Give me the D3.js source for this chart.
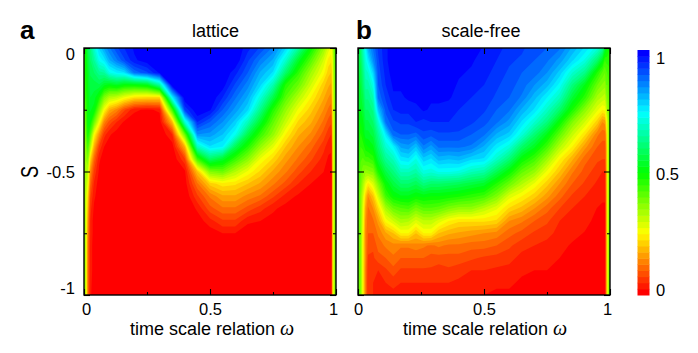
<!DOCTYPE html>
<html><head><meta charset="utf-8">
<script src="https://cdn.jsdelivr.net/npm/d3@7"></script>
<style>html,body{margin:0;padding:0;background:#fff}svg{display:block}text{font-family:"Liberation Sans",Arial,sans-serif;fill:#000}</style>
</head><body><svg id="c" width="698" height="353"></svg>
<script>
// value in percent; one line per omega column
const omegaA=[0,.006,.015,.025,.04,.06,.08,.1,.13,.16,.2,.25,.3,.35,.4,.45,.5,.55,.6,.65,.7,.75,.8,.85,.9,.95,.97,.98,.984,.988,.993,1];
const sA=[0,-.05,-.1,-.15,-.2,-.25,-.3,-.35,-.4,-.45,-.5,-.55,-.6,-.65,-.7,-.75,-.8,-.9,-1];
const colsA=[
[47,47,47,47,46,44,42,41,40,40,39,39,38,38,38,38,38,38,38],
[50,49,48,47,45,42,40,38,36,35,34,34,33,33,33,33,33,33,33],
[58,55,53,52,51,51,51,49,44,38,32,28,22,19,16,14,13,12,12],
[62,60,58,56,55,53,50,42,33,22,15,11,8,6,5,5,4,4,3],
[70,65,60,56,54,51,40,26,18,11,7,4.5,3,2,1,1,1,1,1],
[78,73,64,57,48,38,27,15,7,3,2,1,1,1,1,1,1,1,1],
[83,76,65,53,38,26,14,6,2.5,1,1,1,1,1,1,1,1,1,1],
[87,82,72,51,33,18,9,3,1,1,1,1,1,1,1,1,1,1,1],
[92,87,75,53,31,14,5,1,1,1,1,1,1,1,1,1,1,1,1],
[95,92,77,50,27,8,2,0,0,0,0,0,0,0,0,0,0,0,0],
[98,97,88,50,23,3,1,0,0,0,0,0,0,0,0,0,0,0,0],
[100,99,92,52,22,2,1,0,0,0,0,0,0,0,0,0,0,0,0],
[100,100,98,65,22,3,1,0,0,0,0,0,0,0,0,0,0,0,0],
[100,100,100,100,75,44,19,5,1,0,0,0,0,0,0,0,0,0,0],
[100,100,100,100,100,93,70,40,18,7,2,1,0,0,0,0,0,0,0],
[100,100,100,100,100,100,95,85,68,44,20,12,7,3,1,0,0,0,0],
[100,100,100,100,100,98,90,84,77,59,38,21,13,9,4,1,0,0,0],
[100,100,100,99,95,90,85,80,75,54,40,24,17,12,7,2.5,1,0,0],
[100,100,96,92,88,84,79,73,58,45,33,23,17,12,7,2.5,1,0,0],
[96,93,90,86,82,78,68,57,47,37,27,20,14,9,3,1,1,0,0],
[92,87,82,78,71,63,54,45,36,27,22,17,12,6,2.5,1,0,0,0],
[87,82,77,67,57,47,41,36,28,22,17,13,8,3,1.5,1,0,0,0],
[78,70,60,47,42,36,31,25,20,16,13,9,4,1.5,1,0,0,0,0],
[65,54,46,40,33,27,22,18,15,12,8.5,5,2,1,1,0,0,0,0],
[50,42,35,30,25,21,18,14.5,11,8,5,2.5,1,1,1,0,0,0,0],
[36,30,26,21,18,15,12,9,6,4,2.6,1,1,1,0,0,0,0,0],
[29,24,21,18,15,12,9,6,3.5,2,1,1,1,0,0,0,0,0,0],
[27,23,20,17,14,11,8,5,3,2,1,1,1,0,0,0,0,0,0],
[28,25,22,20,18,15,12,9,7,6,5,5,5,6,6,6,7,8,8],
[32,30,29,28,27,27,26,26,25,25,25,25,25,25,25,25,25,25,25],
[40,38,37,36,35,34,33,33,33,33,33,33,33,33,33,33,33,33,33],
[46,45,44,44,44,43,43,42,42,42,42,42,42,42,42,42,42,42,42]];

const omegaB=[0,.01,.02,.03,.04,.06,.08,.11,.14,.17,.2,.23,.26,.29,.32,.36,.4,.45,.5,.55,.6,.65,.7,.75,.8,.85,.9,.95,.97,.98,.985,.99,.995,1];
const sB=[0,-.05,-.1,-.15,-.2,-.25,-.3,-.35,-.4,-.45,-.5,-.55,-.6,-.65,-.7,-.75,-.8,-.85,-.9,-.95,-1];
const colsB=[
[55,55,54,54,53,53,52,52,50,49,48,46,45,44,43,43,42,42,42,42,42],
[60,58,56,55,54,52,50,47,45,43,41,40,38,38,38,38,38,38,38,38,38],
[68,65,62,60,57,55,52,50,46,42,38,34,30,28,27,26,25,25,25,25,25],
[75,72,69,66,63,60,57,54,49,44,36,28,21,17,15,14,14,14,13,13,13],
[82,76,70,66,63,60,57,54,50,44,37,24,15,12,11,10,9,7,6,5,5],
[88,85,78,72,67,63,60,56,52,46,38,29,20,15,12,10,8,7,6,5,5],
[93,92,91,90,88,80,70,64,60,55,48,38,30,22,16,13,11,9,5,4,3],
[97,97,96,95,93,91,88,76,70,64,57,50,44,34,26,17,13,10,7,5,4],
[99,99,99,98,97,95,92,89,75,68,62,56,50,40,30,20,14,12,9,6,4],
[100,100,99,98,97,96,93,90,83,76,68,60,52,42,34,25,13,10,7,5,4],
[100,100,100,99,98,96,93,90,84,77,68,60,52,43,33,25,13,10,7,5,3.5],
[100,100,100,98,99,96,95,89,80,72,66,58,50,39,29,20,14,10,7,5,3.5],
[100,100,99,100,99,98,94,92,87,79,72,62,51,42,32,25,13,10,7,5,4],
[100,100,100,99,98,97,95,91,84,77,71,60,50,42,32,25,12,9,7,5,3.5],
[100,100,100,99,98,97,95,92,88,81,73,60,50,41,29,20,13,9,6,5,3.5],
[100,100,99,99,98,96,95,92,88,80,73,59,49,38,25,18,12,9,7,5,3.5],
[100,99,98,97,96,95,94,92,88,81,72,58,48,36,23,17,12,9,6,4.5,3],
[100,98,97,96,95,94,93,90,87,78,68,56,46,36,23,16,11,8,5,4,3],
[97,96,96,95,94,93,91,88,82,77,66,54,44,32,23,15,11,7,5,3.5,2.5],
[96,95,94,93,92,90,88,82,76,69,58,47,38,28,22,14,10,6.5,4.5,3,2],
[94,93,92,91,90,88,84,79,71,61,50,40,29,22,15,11,8,6,4,3,2],
[93,92,90,89,87,82,77,71,60,50,41,33,25,19,13,9,6,4,3,2,1.5],
[91,90,89,85,81,77,70,61,53,44,36,27,21,15,10,7,5,3.5,2.5,2,1],
[90,88,85,81,75,69,62,52,44,35,27,21,16,11,8,6,4,3,2.5,2,1],
[88,84,79,74,68,60,50,41,33,25,20,15,11,7.5,5,4,3,2.5,2,1,1],
[82,78,70,62,55,48,38,31,25,18,13,10,7,5,4,3,2.3,1.8,1,1,1],
[77,72,63,52,46,37,30,23,16,11,9,7,5,4,3,2.4,1.7,1,1,1,1],
[71,60,47,40,34,28,21,13,10,8,6,4.5,3.5,2.4,2,1.5,1,1,1,1,1],
[65,52,42,37,32,25,15,11,9,7.5,5,4,3,2,1,1,1,1,1,1,1],
[55,45,40,36,31,26,16,11,9,7.5,5,4,3,2,1,1,1,1,1,1,1],
[52,46,42,40,36,30,24,18,15,15,14,14,13,13,13,13,13,13,13,13,13],
[50,46,43,40,38,35,30,29,28,28,28,28,28,28,28,28,28,28,28,28,28],
[48,46,44,42,40,38,36,35,35,35,35,35,35,35,35,35,35,35,35,35,35],
[48,47,46,46,45,45,45,44,44,44,44,44,44,44,44,44,44,44,44,44,44]];

const panelTitles=["lattice","scale-free"];
const panelLetters=["a","b"];
const xTicks=[0,.25,.5,.75,1];
const yTicks=[0,-.25,-.5,-.75,-1];
const xLabels={0:"0",.5:"0.5",1:"1"};
const yLabels={0:"0","-0.5":"-0.5","-1":"-1"};
const barLabels=[[1,"1"],[.5,"0.5"],[0,"0"]];
const bandCount=40;
const colorStops=["#ff0000","#ffff00","#00ff00","#00ffff","#0000ff"];

const svg=d3.select("#c");
const top_=48,bot=295;
const color=d3.scaleLinear().domain([0,.25,.5,.75,1]).range(colorStops);
const bandColor=k=>color(k/(bandCount-1));
const levels=d3.range(1,bandCount).map(k=>k*100/bandCount);
const tickLen=d=>(Math.abs(d)===.25||Math.abs(d)===.75)?3:6;

function panel(i,x0,x1,omega,s,cols,opt){
  const g=svg.append("g");
  const x=d3.scaleLinear().domain([0,1]).range([x0,x1]);
  const y=d3.scaleLinear().domain([0,-1]).range([top_,bot]);
  const nx=omega.length,ny=s.length;
  const xi=d3.scaleLinear().domain(omega.map((_,k)=>k+.5)).range(omega.map(x)).clamp(true);
  const yi=d3.scaleLinear().domain(s.map((_,k)=>k+.5)).range(s.map(y)).clamp(true);
  const flat=[];
  for(let r=0;r<ny;r++)for(let c=0;c<nx;c++)flat.push(cols[c][r]);
  const path=d3.geoPath(d3.geoTransform({point(a,b){this.stream.point(xi(a),yi(b));}}));
  const cid="clip"+i;
  g.append("clipPath").attr("id",cid).append("rect").attr("x",x0).attr("y",top_).attr("width",x1-x0).attr("height",bot-top_);
  const m=g.append("g").attr("clip-path",`url(#${cid})`);
  m.append("rect").attr("x",x0).attr("y",top_).attr("width",x1-x0).attr("height",bot-top_).attr("fill",bandColor(0));
  const cs=d3.contours().size([nx,ny]).thresholds(levels)(flat);
  m.selectAll("path").data(cs).join("path").attr("d",path).attr("fill",(d,k)=>bandColor(k+1));

  const fmtX=d=>xLabels[d]||"";
  const fmtY=d=>yLabels[String(d)]||"";
  const ax=g.append("g").attr("transform",`translate(0,${bot})`).call(d3.axisBottom(x).tickValues(xTicks).tickFormat(fmtX).tickSizeInner(-4).tickSizeOuter(0).tickPadding(8));
  const at=g.append("g").attr("transform",`translate(0,${top_})`).call(d3.axisTop(x).tickValues(xTicks).tickFormat("").tickSizeInner(-4).tickSizeOuter(0));
  const ay=g.append("g").attr("transform",`translate(${x0},0)`).call(d3.axisLeft(y).tickValues(yTicks).tickFormat(opt.yLab?fmtY:"").tickSizeInner(-4).tickSizeOuter(0).tickPadding(9));
  const ar=g.append("g").attr("transform",`translate(${x1},0)`).call(d3.axisRight(y).tickValues(yTicks).tickFormat("").tickSizeInner(-4).tickSizeOuter(0));
  g.selectAll(".domain").remove();
  g.selectAll(".tick line").attr("stroke","#000").attr("stroke-width",1.1);
  ax.selectAll(".tick line").attr("y2",d=>-tickLen(d));
  at.selectAll(".tick line").attr("y2",d=>tickLen(d));
  ay.selectAll(".tick line").attr("x2",d=>tickLen(d));
  ar.selectAll(".tick line").attr("x2",d=>-tickLen(d));
  ax.selectAll("text").attr("font-size",16.5).attr("dx",d=>d===0?opt.d0:d===1?-3:0).attr("dy","0.72em");
  ay.selectAll("text").attr("font-size",16.5).attr("dy",d=>d===0?"0.68em":d===-1?"-0.1em":"0.36em");
  g.append("rect").attr("x",x0).attr("y",top_).attr("width",x1-x0).attr("height",bot-top_).attr("fill","none").attr("stroke","#000").attr("stroke-width",1.4);
  g.append("text").attr("x",(x0+x1)/2+opt.tdx).attr("y",37).attr("text-anchor","middle").attr("font-size",18).text(panelTitles[i]);
  const xl=g.append("text").attr("x",(x0+x1)/2+opt.xdx).attr("y",335).attr("text-anchor","middle").attr("font-size",18);
  xl.append("tspan").text("time scale relation ");
  xl.append("tspan").attr("font-family","'Liberation Serif',serif").attr("font-style","italic").attr("font-size",20).text("ω");
  g.append("text").attr("x",opt.lx).attr("y",39).attr("font-size",26).attr("font-weight","bold").text(panelLetters[i]);
}
panel(0,84,336,omegaA,sA,colsA,{yLab:true,d0:2,tdx:5.5,xdx:2,lx:20});
panel(1,358,610,omegaB,sB,colsB,{yLab:false,d0:0,tdx:-3,xdx:1,lx:356});
svg.append("text").attr("transform","translate(38,172) rotate(-90) scale(.75,1)").attr("text-anchor","middle").attr("font-size",24).text("S");

// colour bar
const by=d3.scaleLinear().domain([0,1]).range([295,50]);
svg.append("g").selectAll("rect").data(d3.range(bandCount)).join("rect")
  .attr("x",637.5).attr("width",12).attr("y",k=>by((k+1)/bandCount)).attr("height",k=>by(k/bandCount)-by((k+1)/bandCount)+.5).attr("fill",bandColor);
svg.append("g").selectAll("text").data(barLabels).join("text").attr("x",656).attr("font-size",16.5)
  .attr("y",d=>d[0]===1?64:d[0]===0?296:180).text(d=>d[1]);
</script></body></html>
